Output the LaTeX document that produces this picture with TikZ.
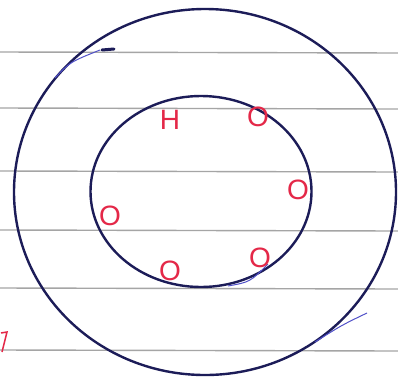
\documentclass[tikz,border=0pt]{standalone}
\usepackage{fontspec}
\setmainfont{Liberation Sans}
\definecolor{ink}{RGB}{28,28,88}
\definecolor{lightink}{RGB}{80,80,200}
\definecolor{redink}{RGB}{228,40,72}
\definecolor{rule}{RGB}{165,165,165}
\tikzset{
  pen/.style={draw=ink,line width=2.4pt,line cap=round,line join=round},
  ruleline/.style={draw=rule,line width=1.4pt},
  letter/.style={text=redink,inner sep=0pt,font=\fontsize{28}{28}\selectfont}
}
\begin{document}
\begin{tikzpicture}[x=1pt,y=-1pt]
\useasboundingbox[fill=white] (0,0) rectangle (398,378);
% ruled lines
\foreach \yy in {52,108,171,230,288,350} {
  \draw[ruleline] (0,\yy) -- (398,\yy+1);
}
% outer circle
\draw[pen] (205,192) ellipse[x radius=191,y radius=183];
% inner circle
\draw[pen] (201,191.5) ellipse[x radius=110.5,y radius=95.5];
% pen marks
\draw[ink,line width=3pt,line cap=round] (102,50) -- (114,49);
\draw[lightink,line width=1pt] (55,78) .. controls (70,62) .. (100,50);
\draw[lightink,line width=1pt] (315,342) .. controls (342,325) .. (367,313);
\draw[lightink,line width=1pt] (228,286) .. controls (250,282) .. (268,264);
\draw[redink,line width=1.5pt] (1,333) -- (7,332) -- (2,352);
% atoms
\node[letter] (h) at (170,120) {H};
\node[letter] (o1) at (258,117) {O};
\node[letter] (o2) at (298,190) {O};
\node[letter] (o3) at (110,216) {O};
\node[letter] (o4) at (170,271) {O};
\node[letter] (o5) at (260,258) {O};
\end{tikzpicture}
\end{document}
